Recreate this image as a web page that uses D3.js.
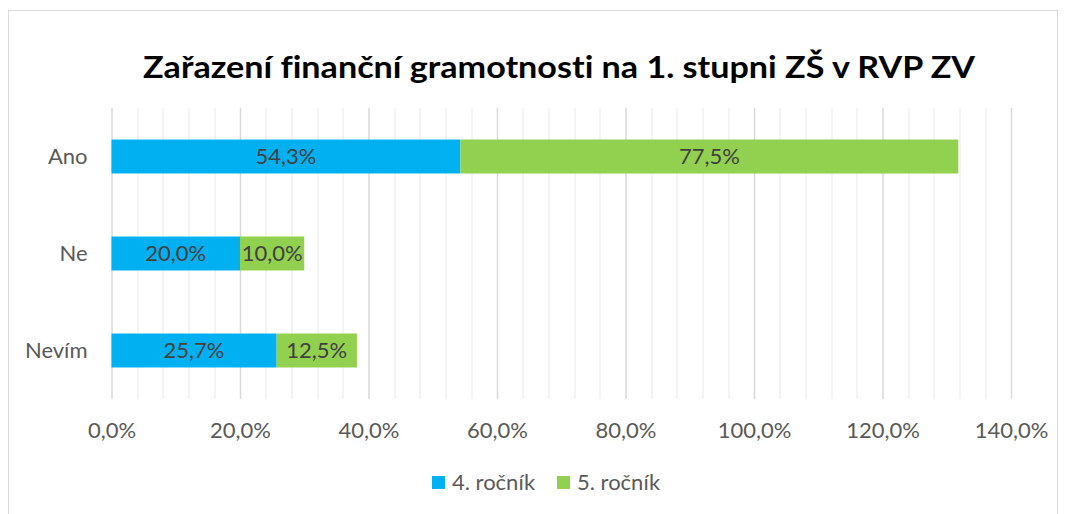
<!DOCTYPE html>
<html>
<head>
<meta charset="utf-8">
<script src="https://cdn.jsdelivr.net/npm/d3@7"></script>
<style>
  body { margin: 0; background: #fff; }
  text { font-family: Lato, "Open Sans", sans-serif; font-variant-ligatures: none; }
</style>
</head>
<body>
<svg id="chart" width="1066" height="514"></svg>
<script>
var categories = ["Ano", "Ne", "Nevím"];
var seriesNames = ["4. ročník", "5. ročník"];
var seriesColors = ["#00b0f0", "#92d050"];
var grade4 = [54.3, 20.0, 25.7];
var grade5 = [77.5, 10.0, 12.5];
var xTicks = [0, 20, 40, 60, 80, 100, 120, 140];

var margin = {top: 108, right: 55, bottom: 115, left: 111.5};
var width = 1066 - margin.left - margin.right,
    height = 514 - margin.top - margin.bottom;

var fmt = function(v) { return v.toFixed(1).replace(".", ",") + "%"; };

var svg = d3.select("#chart");

// chart border
svg.append("rect")
    .attr("x", 8.5).attr("y", 10.5)
    .attr("width", 1049).attr("height", 510)
    .attr("fill", "#fff")
    .attr("stroke", "#d9d9d9");

svg.append("text")
    .attr("x", 559).attr("y", 78)
    .attr("text-anchor", "middle")
    .style("font-size", "31px")
    .style("font-weight", "bold")
    .attr("fill", "#000")
    .attr("textLength", 832)
    .attr("lengthAdjust", "spacingAndGlyphs")
    .text("Zařazení finanční gramotnosti na 1. stupni ZŠ v RVP ZV");

var g = svg.append("g")
    .attr("transform", "translate(" + margin.left + "," + margin.top + ")");

var x = d3.scaleLinear().domain([0, 140]).range([0, 899.5]);
var y = d3.scaleBand().domain(categories).range([0, 291]).paddingInner(0.65).paddingOuter(0.325);

// minor gridlines every 4%
var minor = d3.range(0, 141, 4).filter(function(v) { return v % 20 !== 0; });
g.selectAll(".minor")
    .data(minor)
  .enter().append("line")
    .attr("x1", function(d) { return Math.round(x(d)) + 0.5; })
    .attr("x2", function(d) { return Math.round(x(d)) + 0.5; })
    .attr("y1", 0).attr("y2", height - 0)
    .attr("stroke", "#f0f0f0")
    .attr("stroke-width", 1.5);

var xAxis = d3.axisBottom(x).tickValues(xTicks).tickFormat(fmt).tickSize(-291).tickPadding(23);
var ax = g.append("g")
    .attr("transform", "translate(0,291)")
    .call(xAxis);
ax.select(".domain").remove();
ax.selectAll(".tick line").attr("stroke", "#d9d9d9").attr("stroke-width", 1.5);
ax.selectAll(".tick text")
    .attr("fill", "#595959")
    .style("font-size", "22px");

var yAxis = d3.axisLeft(y).tickSize(0).tickPadding(24);
var ay = g.append("g").call(yAxis);
ay.select(".domain").remove();
ay.selectAll(".tick text")
    .attr("fill", "#595959")
    .style("font-size", "22px");

var rows = categories.map(function(c, i) { return {cat: c, vals: [grade4[i], grade5[i]]}; });
var segs = [];
rows.forEach(function(r) {
  var start = 0;
  r.vals.forEach(function(v, j) {
    segs.push({cat: r.cat, s: j, x0: start, x1: start + v, v: v});
    start += v;
  });
});

g.selectAll(".bar")
    .data(segs)
  .enter().append("rect")
    .attr("x", function(d) { return x(d.x0); })
    .attr("y", function(d) { return y(d.cat); })
    .attr("width", function(d) { return x(d.x1) - x(d.x0); })
    .attr("height", y.bandwidth())
    .attr("fill", function(d) { return seriesColors[d.s]; });

g.selectAll(".lbl")
    .data(segs)
  .enter().append("text")
    .attr("x", function(d) { return (x(d.x0) + x(d.x1)) / 2; })
    .attr("y", function(d) { return y(d.cat) + y.bandwidth() / 2; })
    .attr("dy", "0.36em")
    .attr("text-anchor", "middle")
    .attr("fill", "#404040")
    .style("font-size", "22px")
    .text(function(d) { return fmt(d.v); });

// legend
var legX = [432, 557];
var leg = svg.selectAll(".leg")
    .data(seriesNames)
  .enter().append("g")
    .attr("transform", function(d, i) { return "translate(" + legX[i] + ",476)"; });
leg.append("rect")
    .attr("width", 13).attr("height", 13)
    .attr("fill", function(d, i) { return seriesColors[i]; });
leg.append("text")
    .attr("x", 20).attr("y", 6.5)
    .attr("dy", "0.36em")
    .attr("fill", "#595959")
    .style("font-size", "22px")
    .text(function(d) { return d; });
</script>
</body>
</html>
